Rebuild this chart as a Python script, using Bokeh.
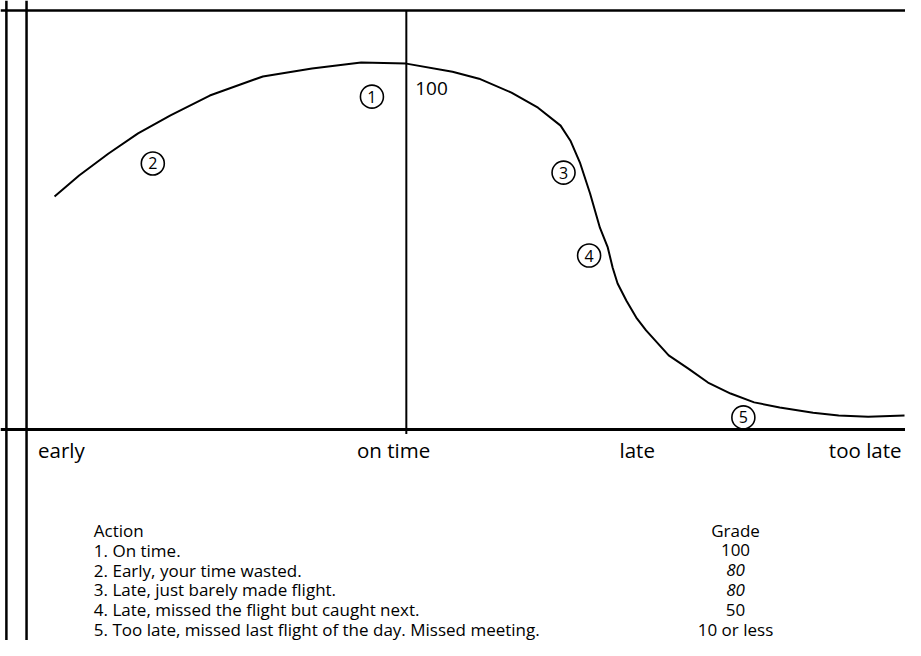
from bokeh.plotting import figure
from bokeh.models import Range1d, LinearAxis, FixedTicker, Span, ColumnDataSource, Label
from bokeh.core.properties import value
from bokeh.embed import file_html
from bokeh.resources import INLINE

# ---- data -----------------------------------------------------------------
# arrival time (0 = on time) vs. grade of the outcome
curve_time = [-3.58, -3.33, -3.03, -2.73, -2.40, -2.00, -1.46, -0.96, -0.46, 0.00,
              0.47, 0.74, 1.07, 1.34, 1.57, 1.67, 1.77, 1.87, 1.97, 2.05,
              2.10, 2.15, 2.24, 2.34, 2.44, 2.67, 2.87, 3.07, 3.30, 3.54,
              3.80, 4.14, 4.40, 4.70, 5.07]
curve_grade = [63.5, 69.2, 75.2, 80.7, 85.6, 91.0, 96.2, 98.4, 100.0, 99.7,
               97.5, 95.6, 91.8, 87.7, 82.8, 78.7, 72.5, 64.3, 55.0, 49.6,
               44.1, 39.8, 35.1, 30.5, 27.0, 20.2, 16.6, 12.8, 9.8, 7.4,
               6.0, 4.6, 3.8, 3.5, 3.8]

tick_time = [-3.51, -0.13, 2.35, 4.67]
tick_labels = ["early", "on time", "late", "too late"]

marker_ids = ["1", "2", "3", "4", "5"]
marker_time = [-0.35, -2.58, 1.60, 1.86, 3.43]
marker_grade = [90.7, 72.5, 70.0, 47.4, 3.3]

peak_label = "100"

actions = ["Action",
           "1. On time.",
           "2. Early, your time wasted.",
           "3. Late, just barely made flight.",
           "4. Late, missed the flight but caught next.",
           "5. Too late, missed last flight of the day. Missed meeting."]
grades = ["Grade", "100", "80", "80", "50", "10 or less"]
grade_italic = [False, False, True, True, False, False]

# ---- layout -----------------------------------------------------------------
X0, X1 = -4.13, 5.08
Y1 = 116.9
Y0 = Y1 - 640 / 3.67
TOP = 114.2
FONT = "Open Sans"
TABLE_SIZE = "17px"

p = figure(width=905, height=640, output_backend="svg", toolbar_location=None,
           x_range=Range1d(X0, X1), y_range=Range1d(Y0, Y1),
           x_axis_type=None, y_axis_type=None, min_border=0)
p.grid.visible = False
p.outline_line_color = None
p.background_fill_color = "white"
p.border_fill_color = "white"

# time axis
ax = LinearAxis(fixed_location=0, ticker=FixedTicker(ticks=tick_time),
                major_label_overrides={t: l for t, l in zip(tick_time, tick_labels)})
ax.axis_line_width = 3
ax.axis_line_color = "black"
ax.major_tick_line_color = None
ax.minor_tick_line_color = None
ax.major_label_standoff = 0
ax.major_label_text_font = FONT
ax.major_label_text_font_size = "20.5px"
ax.major_label_text_color = "black"
p.add_layout(ax, "below")

# frame lines
p.add_layout(Span(location=-4.07, dimension="height", line_color="black", line_width=2.5))
p.add_layout(Span(location=-3.865, dimension="height", line_color="black", line_width=2.5))
p.add_layout(Span(location=TOP, dimension="width", line_color="black", line_width=2.5))
p.segment(x0=[0], y0=[-1.2], x1=[0], y1=[TOP], line_color="black", line_width=2)

# curve
p.line(curve_time, curve_grade, line_color="black", line_width=2)

# circled numbers
msrc = ColumnDataSource(dict(x=marker_time, y=marker_grade, t=marker_ids))
p.scatter("x", "y", source=msrc, marker="circle", size=23, fill_color="white",
          line_color="black", line_width=1.6)
p.text("x", "y", text="t", source=msrc, text_align="center", text_baseline="middle",
       text_font=value(FONT), text_font_size="16px", text_color="black")

p.add_layout(Label(x=0.09, y=92.9, text=peak_label, text_baseline="middle",
                   text_font=FONT, text_font_size="19px", text_color="black"))

# table
row_top = -27.5
row_step = 5.4
rows = list(range(len(actions)))
ys = [row_top - i * row_step for i in rows]
asrc = ColumnDataSource(dict(x=[-3.18] * len(actions), y=ys, t=actions))
p.text("x", "y", text="t", source=asrc, text_align="left", text_baseline="middle",
       text_font=value(FONT), text_font_size=TABLE_SIZE, text_color="black")
gn = [i for i in rows if not grade_italic[i]]
gi = [i for i in rows if grade_italic[i]]
p.text([3.35] * len(gn), [ys[i] for i in gn], text=[grades[i] for i in gn],
       text_align="center", text_baseline="middle", text_font=value(FONT),
       text_font_size=TABLE_SIZE, text_color="black")
p.text([3.35] * len(gi), [ys[i] for i in gi], text=[grades[i] for i in gi],
       text_align="center", text_baseline="middle", text_font=value(FONT),
       text_font_style="italic", text_font_size=TABLE_SIZE, text_color="black")

open("out.html", "w").write(file_html(p, INLINE))
